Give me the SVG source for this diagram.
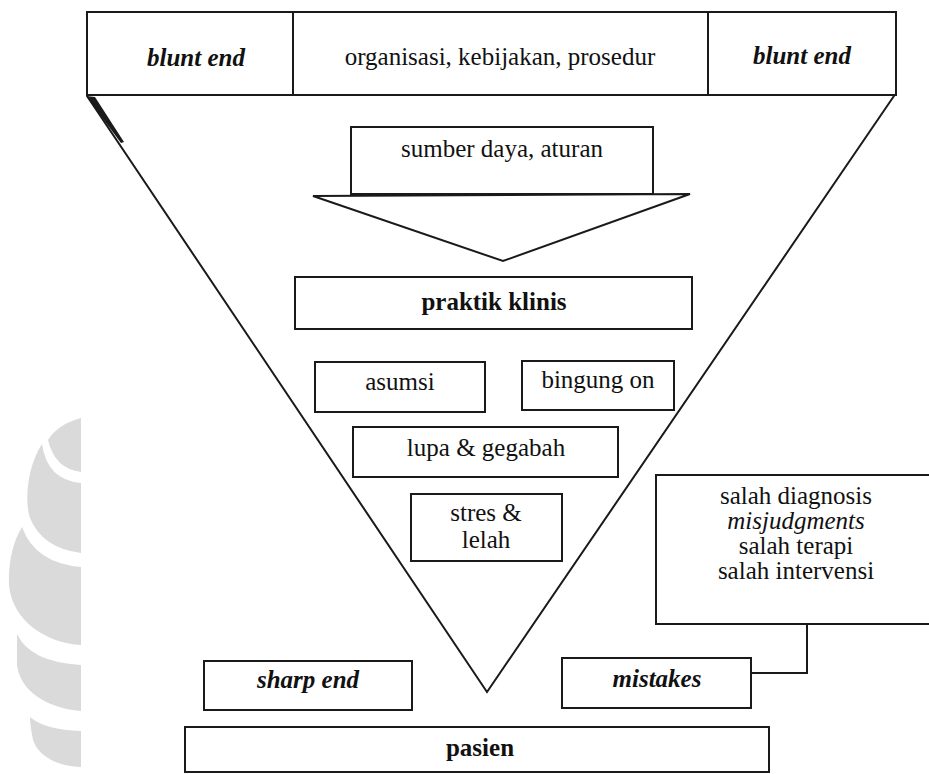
<svg xmlns="http://www.w3.org/2000/svg" width="929" height="774" viewBox="0 0 929 774">
  <style>
    .box { fill: #ffffff; stroke: #1a1a1a; stroke-width: 2; }
    .ln { fill: none; stroke: #1a1a1a; stroke-width: 2; }
    .t { font-size: 25px; fill: #111111; text-anchor: middle; }
    .b { font-weight: bold; }
    .i { font-style: italic; }
    .mark { fill: #dadada; }
  </style>

  <rect width="929" height="774" fill="#ffffff"/>

  <!-- watermark crescents at the left margin -->
  <g id="watermark">
    <path class="mark" d="M81,418 Q58,424 48,440 Q55,469 81,472 Z"/>
    <path class="mark" d="M42,444 Q47,480 81,483 L81,553 Q42,548 30,518 C24,500 28,465 42,444 Z"/>
    <path class="mark" d="M22,527 Q35,563 81,567 L81,645 C45,643 12,620 9,585 C8,560 14,540 22,527 Z"/>
    <path class="mark" d="M17,634 Q30,662 81,665 L81,711 C45,708 20,690 17,665 Z"/>
    <path class="mark" d="M30,717 Q45,730 81,731 L81,767 C55,766 38,755 33,740 C31,730 30,722 30,717 Z"/>
  </g>

  <!-- funnel from blunt end to sharp end -->
  <g id="funnel">
    <polyline class="ln" points="87,96 487,692 896,93"/>
    <path d="M86,96 L95,97 L124,142 L121,143 Z" fill="#1a1a1a"/>
  </g>

  <g id="top-bar">
    <rect class="box" x="87" y="12" width="809" height="83"/>
    <line class="ln" x1="293" y1="12" x2="293" y2="95"/>
    <line class="ln" x1="708" y1="12" x2="708" y2="95"/>
    <text class="t b i" x="196" y="66" style="font-family:serif">blunt end</text>
    <text class="t" x="500" y="65" style="font-family:serif">organisasi, kebijakan, prosedur</text>
    <text class="t b i" x="802" y="64" style="font-family:serif">blunt end</text>
  </g>

  <g id="sumber-daya">
    <rect class="box" x="351" y="127" width="302" height="67"/>
    <polygon class="box" points="313,196 690,194 503,261"/>
    <text class="t" x="502" y="157" style="font-family:serif">sumber daya, aturan</text>
  </g>

  <g id="praktik-klinis">
    <rect class="box" x="295" y="277" width="397" height="52"/>
    <text class="t b" x="494" y="310" style="font-family:serif">praktik klinis</text>
  </g>

  <g id="asumsi">
    <rect class="box" x="315" y="362" width="170" height="50"/>
    <text class="t" x="400" y="390" style="font-family:serif">asumsi</text>
  </g>

  <g id="bingung-on">
    <rect class="box" x="522" y="361" width="152" height="49"/>
    <text class="t" x="598" y="388" style="font-family:serif">bingung on</text>
  </g>

  <g id="lupa-gegabah">
    <rect class="box" x="353" y="427" width="265" height="50"/>
    <text class="t" x="486" y="456" style="font-family:serif">lupa &amp; gegabah</text>
  </g>

  <g id="stres-lelah">
    <rect class="box" x="411" y="494" width="151" height="67"/>
    <text class="t" x="486" y="521" style="font-family:serif">stres &amp;</text>
    <text class="t" x="486" y="548" style="font-family:serif">lelah</text>
  </g>

  <g id="kesalahan">
    <rect class="box" x="656" y="475" width="290" height="149"/>
    <text class="t" x="796" y="504" style="font-family:serif">salah diagnosis</text>
    <text class="t i" x="796" y="529" style="font-family:serif">misjudgments</text>
    <text class="t" x="796" y="554" style="font-family:serif">salah terapi</text>
    <text class="t" x="796" y="579" style="font-family:serif">salah intervensi</text>
  </g>

  <g id="sharp-end">
    <rect class="box" x="204" y="661" width="208" height="49"/>
    <text class="t b i" x="308" y="688" style="font-family:serif">sharp end</text>
  </g>

  <g id="mistakes">
    <rect class="box" x="562" y="658" width="189" height="50"/>
    <text class="t b i" x="657" y="687" style="font-family:serif">mistakes</text>
  </g>

  <g id="pasien">
    <rect class="box" x="185" y="727" width="584" height="45"/>
    <text class="t b" x="480" y="756" style="font-family:serif">pasien</text>
  </g>

  <g id="connectors">
    <polyline class="ln" points="807,624 807,673 751,673"/>
  </g>
</svg>
